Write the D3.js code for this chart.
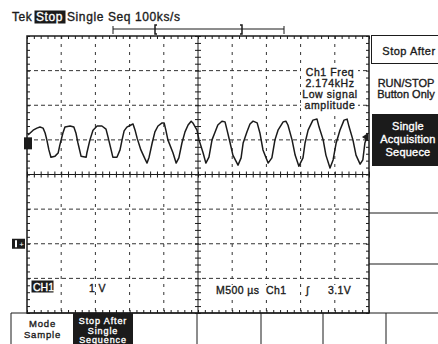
<!DOCTYPE html>
<html>
<head>
<meta charset="utf-8">
<script src="https://cdn.jsdelivr.net/npm/d3@7/dist/d3.min.js"></script>
<style>
  body { margin: 0; background: #fff; }
  svg { display: block; font-family: "Liberation Sans", Arial, Helvetica, sans-serif; }
  text { stroke-width: 0.35px; }
</style>
</head>
<body>
<div id="scope"></div>
<script>
// Ch1 trace, time in µs from the left edge, volts from the Ch1 ground marker
const traceTime = [15, 90, 145, 190, 235, 265, 290, 320, 350, 410, 455, 480, 525, 555, 630, 685,
  715, 745, 790, 865, 875, 920, 965, 1025, 1095, 1155, 1185, 1230, 1255, 1315, 1360, 1390,
  1420, 1460, 1520, 1550, 1580, 1610, 1665, 1725, 1755, 1785, 1830, 1870, 1915, 1975, 2005,
  2030, 2060, 2135, 2180, 2220, 2265, 2310, 2355, 2400, 2425, 2485, 2515, 2575, 2615, 2660,
  2705, 2750, 2790, 2850, 2895, 2925, 2970, 3010, 3085, 3130, 3160, 3215, 3260, 3305, 3365,
  3405, 3450, 3525, 3580, 3625, 3670, 3745, 3785, 3815, 3875, 3920, 3975, 4035, 4065, 4110,
  4180, 4240, 4270, 4330, 4370, 4430, 4475, 4520, 4575, 4635, 4680, 4710, 4765, 4810, 4870,
  4910, 4940, 4970];
const traceVolts = [0.24, 0.38, 0.44, 0.47, 0.44, 0.30, 0.10, -0.19, -0.40, -0.37, -0.28, -0.05, 0.30, 0.47, 0.50, 0.47,
  0.30, 0.01, -0.37, -0.40, -0.28, 0.10, 0.38, 0.50, 0.50, 0.41, 0.18, -0.19, -0.40, -0.40, -0.19, 0.10,
  0.36, 0.47, 0.53, 0.56, 0.38, 0.15, -0.19, -0.45, -0.57, -0.40, 0.01, 0.33, 0.50, 0.59, 0.59,
  0.38, 0.10, -0.28, -0.57, -0.42, 0.01, 0.33, 0.53, 0.64, 0.59, 0.38, 0.10, -0.28, -0.57, -0.40,
  0.10, 0.33, 0.53, 0.64, 0.62, 0.38, 0.01, -0.34, -0.63, -0.42, 0.01, 0.33, 0.56, 0.64, 0.59,
  0.30, -0.19, -0.57, -0.42, 0.10, 0.38, 0.62, 0.64, 0.53, 0.10, -0.34, -0.66, -0.42, 0.01, 0.38,
  0.67, 0.70, 0.47, 0.10, -0.34, -0.71, -0.48, 0.01, 0.38, 0.67, 0.70, 0.47, 0.10, -0.34, -0.60,
  -0.48, 0.01, 0.18];

const timePerDiv = 500;   // µs
const voltsPerDiv = 1;
const ch1Position = 0.9;  // divisions above centre
const headerParts = ["Tek", "Stop", "Single Seq 100ks/s"];
const measLines = ["Ch1 Freq", "2.174kHz", "Low signal", "amplitude"];
const readouts = ["M500 µs", "Ch1", "\u222B", "3.1V"];
const readoutX = [216, 266, 306, 328];
const sideStop = ["Stop After"];
const sideRun = ["RUN/STOP", "Button Only"];
const sideSingle = ["Single", "Acquisition", "Sequece"];
const bottomMode = ["Mode", "Sample"];
const bottomStop = ["Stop After", "Single", "Sequence"];

const width = 438, height = 344;
const ink = "#1b1b1b";

const svg = d3.select("#scope").append("svg")
  .attr("width", width)
  .attr("height", height);

// graticule: 10 x 8 divisions
const x = d3.scaleLinear().domain([0, 10 * timePerDiv]).range([27, 369]);
const y = d3.scaleLinear()
  .domain([(-4 - ch1Position) * voltsPerDiv, (4 - ch1Position) * voltsPerDiv])
  .range([313, 36]);
const yDiv = d => y((d - ch1Position) * voltsPerDiv);  // screen division -> px

const [x0, x1] = x.range();
const yTop = y.range()[1], yBot = y.range()[0];

// dashed grid
svg.append("g").selectAll("line")
  .data([1, 2, 3, 4, 6, 7, 8, 9])
  .join("line")
  .attr("x1", d => x(d * timePerDiv)).attr("x2", d => x(d * timePerDiv))
  .attr("y1", yTop).attr("y2", yBot)
  .attr("stroke", "#333").attr("stroke-dasharray", "3,5");

svg.append("g").selectAll("line")
  .data([3, 2, 1, -1, -2, -3])
  .join("line")
  .attr("x1", x0).attr("x2", x1)
  .attr("y1", d => yDiv(d)).attr("y2", d => yDiv(d))
  .attr("stroke", "#333").attr("stroke-dasharray", "4,3");

// minor ticks every 0.2 div
const minorX = d3.range(0, 10.01, 0.2).map(d => d * timePerDiv);
const minorY = d3.range(-4, 4.01, 0.2).map(d => (d - ch1Position) * voltsPerDiv);

function ticks(g) {
  g.select(".domain").remove();
  g.selectAll("text").remove();
  g.selectAll("line").attr("stroke", ink);
}

svg.append("g").attr("transform", `translate(0,${yTop})`)
  .call(d3.axisBottom(x).tickValues(minorX).tickSize(3)).call(ticks);
svg.append("g").attr("transform", `translate(0,${yBot})`)
  .call(d3.axisTop(x).tickValues(minorX).tickSize(3)).call(ticks);
svg.append("g").attr("transform", `translate(${x0},0)`)
  .call(d3.axisRight(y).tickValues(minorY).tickSize(3)).call(ticks);
svg.append("g").attr("transform", `translate(${x1},0)`)
  .call(d3.axisLeft(y).tickValues(minorY).tickSize(3)).call(ticks);

// centre axes
const xc = x(5 * timePerDiv), yc = yDiv(0);
svg.append("g").attr("transform", `translate(0,${yc - 3})`)
  .call(d3.axisBottom(x).tickValues(minorX).tickSize(6)).call(ticks);
svg.append("g").attr("transform", `translate(${xc - 3},0)`)
  .call(d3.axisRight(y).tickValues(minorY).tickSize(6)).call(ticks);
svg.append("line").attr("x1", x0).attr("x2", x1).attr("y1", yc).attr("y2", yc)
  .attr("stroke", ink);
svg.append("line").attr("x1", xc).attr("x2", xc).attr("y1", yTop).attr("y2", yBot)
  .attr("stroke", ink);

// frame
svg.append("rect")
  .attr("x", x0).attr("y", yTop)
  .attr("width", x1 - x0).attr("height", yBot - yTop)
  .attr("fill", "none").attr("stroke", ink).attr("stroke-width", 1.5);

// measurement box
const meas = svg.append("g");
meas.append("rect").attr("x", 301).attr("y", 63).attr("width", 57).attr("height", 48)
  .attr("fill", "#fff");
meas.selectAll("text").data(measLines).join("text")
  .attr("x", 330).attr("y", (d, i) => 76 + i * 11)
  .attr("text-anchor", "middle").attr("font-size", 10.5).attr("letter-spacing", 0.6)
  .attr("fill", ink).attr("stroke", ink)
  .text(d => d);

// trace
const traceData = traceTime.map((t, i) => [t, traceVolts[i]]);
svg.append("path")
  .datum(traceData)
  .attr("fill", "none")
  .attr("stroke", ink)
  .attr("stroke-width", 1.5)
  .attr("stroke-linejoin", "round")
  .attr("d", d3.line().x(d => x(d[0])).y(d => y(d[1])));

// ground marker and trigger markers
svg.append("rect").attr("x", 24).attr("y", y(0) - 6).attr("width", 8).attr("height", 12)
  .attr("fill", ink);
const trigY = y(traceVolts[traceVolts.length - 1]);
svg.append("path")
  .attr("d", `M${x1 - 7},${trigY}l6,-4l0,8z`)
  .attr("fill", ink);
const tl = svg.append("g").attr("transform", `translate(12,${yDiv(-2) - 5})`);
tl.append("rect").attr("width", 13).attr("height", 10).attr("fill", ink);
tl.append("rect").attr("x", 3).attr("y", 1.5).attr("width", 2).attr("height", 7).attr("fill", "#fff");
tl.append("text").attr("x", 9.5).attr("y", 8).attr("text-anchor", "middle")
  .attr("font-size", 8).attr("fill", "#fff").text("+");

// header
const head = svg.append("g").attr("font-size", 12).attr("letter-spacing", 0.6)
  .attr("fill", ink).attr("stroke", ink);
head.append("text").attr("x", 12).attr("y", 21).text(headerParts[0]);
head.append("rect").attr("x", 35).attr("y", 11).attr("width", 30).attr("height", 12)
  .attr("fill", ink);
head.append("text").attr("x", 36).attr("y", 21).attr("fill", "#fff").attr("stroke", "#fff")
  .text(headerParts[1]);
head.append("text").attr("x", 67).attr("y", 21).text(headerParts[2]);

// record view bar
const bar = svg.append("g").attr("stroke", ink).attr("fill", "none");
bar.append("line").attr("x1", 113).attr("x2", 284).attr("y1", 29).attr("y2", 29);
bar.append("line").attr("x1", 113).attr("x2", 113).attr("y1", 26).attr("y2", 34);
bar.append("line").attr("x1", 284).attr("x2", 284).attr("y1", 26).attr("y2", 34);
bar.append("path").attr("d", "M157,25h-2v9h2").attr("stroke-width", 1.5);
bar.append("path").attr("d", "M240,25h2v9h-2").attr("stroke-width", 1.5);

// readouts along the bottom of the graticule
const ro = svg.append("g").attr("font-size", 10.5).attr("letter-spacing", 0.4)
  .attr("fill", ink).attr("stroke", ink);
ro.append("rect").attr("x", 32).attr("y", 281).attr("width", 21).attr("height", 11)
  .attr("fill", ink);
ro.append("text").attr("x", 33).attr("y", 290.5).attr("fill", "#fff").attr("stroke", "#fff")
  .attr("letter-spacing", 0).text("CH1");
ro.append("text").attr("x", 89).attr("y", 292).text("1 V");
readouts.forEach((t, i) => {
  const tx = ro.append("text").attr("x", readoutX[i]).attr("y", 294).text(t);
  const b = tx.node().getBBox();
  ro.insert("rect", "text").attr("x", b.x - 1).attr("y", b.y + 1)
    .attr("width", b.width + 2).attr("height", b.height - 2)
    .attr("fill", "#fff").attr("stroke", "none");
});

// side menu
const side = svg.append("g").attr("font-size", 11).attr("letter-spacing", 0.5)
  .attr("text-anchor", "middle");
side.append("rect").attr("x", 371.5).attr("y", 35.5).attr("width", 80).attr("height", 28)
  .attr("fill", "none").attr("stroke", ink);
side.append("text").attr("x", 409).attr("y", 55).attr("fill", ink).attr("stroke", ink)
  .text(sideStop[0]);
side.selectAll(".run").data(sideRun).join("text").attr("class", "run")
  .attr("x", 406).attr("y", (d, i) => 87 + i * 11).attr("letter-spacing", 0)
  .attr("fill", ink).attr("stroke", ink).text(d => d);
side.append("rect").attr("x", 372).attr("y", 114).attr("width", 70).attr("height", 52)
  .attr("fill", ink);
side.selectAll(".single").data(sideSingle).join("text").attr("class", "single")
  .attr("x", 408).attr("y", (d, i) => 130 + i * 13).attr("letter-spacing", 0.2)
  .attr("fill", "#fff").attr("stroke", "#fff").text(d => d);
side.selectAll("line").data([213, 264]).join("line")
  .attr("x1", x1).attr("x2", width).attr("y1", d => d).attr("y2", d => d)
  .attr("stroke", ink);

// bottom menu
const bot = svg.append("g").attr("text-anchor", "middle");
bot.append("line").attr("x1", 11).attr("x2", width).attr("y1", 313).attr("y2", 313)
  .attr("stroke", ink);
bot.selectAll("line.div").data([11, 197, 261, 323, 386]).join("line").attr("class", "div")
  .attr("x1", d => d).attr("x2", d => d).attr("y1", 313).attr("y2", height)
  .attr("stroke", ink);
bot.append("rect").attr("x", 73).attr("y", 313).attr("width", 60).attr("height", 31)
  .attr("fill", ink);
bot.selectAll(".mode").data(bottomMode).join("text").attr("class", "mode")
  .attr("x", 42.5).attr("y", (d, i) => 327 + i * 10.6)
  .attr("font-size", 9.5).attr("letter-spacing", 0.8)
  .attr("fill", ink).attr("stroke", ink).text(d => d);
bot.selectAll(".stop").data(bottomStop).join("text").attr("class", "stop")
  .attr("x", 103).attr("y", (d, i) => 324 + i * 9.6)
  .attr("font-size", 9).attr("letter-spacing", 0.9)
  .attr("fill", "#fff").attr("stroke", "#fff").text(d => d);
</script>
</body>
</html>
